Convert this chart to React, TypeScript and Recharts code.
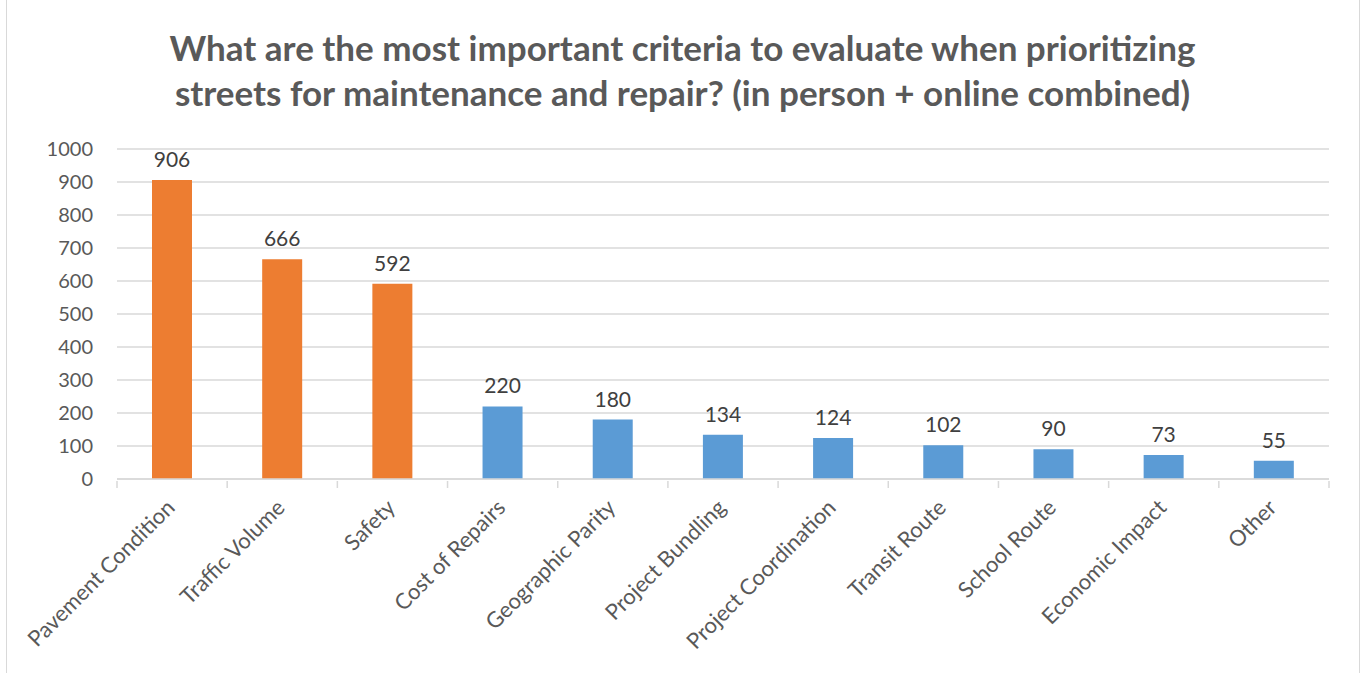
import React from 'react';
import { Bar, BarChart, CartesianGrid, Cell, LabelList, XAxis, YAxis } from 'recharts';

const categories = [
  'Pavement Condition',
  'Traffic Volume',
  'Safety',
  'Cost of Repairs',
  'Geographic Parity',
  'Project Bundling',
  'Project Coordination',
  'Transit Route',
  'School Route',
  'Economic Impact',
  'Other',
];
const votes = [906, 666, 592, 220, 180, 134, 124, 102, 90, 73, 55];
const highlighted = [true, true, true, false, false, false, false, false, false, false, false];
const yTicks = [0, 100, 200, 300, 400, 500, 600, 700, 800, 900, 1000];

const ORANGE = '#ED7D31';
const BLUE = '#5B9BD5';
const FONT = 'Lato, "Open Sans", sans-serif';

const PLOT_LEFT = 117;
const PLOT_RIGHT = 1329;
const BAND = (PLOT_RIGHT - PLOT_LEFT) / categories.length;

const data = categories.map((name, i) => ({ name, votes: votes[i], top: highlighted[i] }));

// Excel-style axis: tick marks sit between categories, labels rotated 45deg
const XTick = (props: any) => {
  const { x, y, payload, index } = props;
  const last = index === categories.length - 1;
  return (
    <g>
      <line x1={x - BAND / 2} x2={x - BAND / 2} y1={y} y2={y + 7} stroke='#d9d9d9' strokeWidth={1.5} />
      {last && <line x1={x + BAND / 2} x2={x + BAND / 2} y1={y} y2={y + 7} stroke='#d9d9d9' strokeWidth={1.5} />}
      <text
        transform={`translate(${x + 4},${y + 28}) rotate(-45)`}
        textAnchor='end'
        fill='#595959'
        fontSize={22}
        fontFamily={FONT}
      >
        {payload.value}
      </text>
    </g>
  );
};

export default function App() {
  return (
    <div style={{ position: 'absolute', left: 0, top: 0, width: 1365, height: 673, background: '#fff', overflow: 'hidden' }}>
      <div style={{ position: 'absolute', left: 6, top: -2, width: 1352, height: 680, borderLeft: '1.5px solid #d9d9d9', borderRight: '1.5px solid #d9d9d9' }} />
      <div
        style={{
          position: 'absolute',
          left: 0,
          top: 25,
          width: 1365,
          textAlign: 'center',
          fontFamily: FONT,
          fontWeight: 700,
          fontSize: 35,
          lineHeight: '45px',
          color: '#595959',
        }}
      >
        What are the most important criteria to evaluate when prioritizing
        <br />
        streets for maintenance and repair? (in person + online combined)
      </div>
      <div style={{ position: 'absolute', left: 0, top: 0 }}>
        <BarChart
          width={1365}
          height={673}
          data={data}
          margin={{ top: 149, right: 1365 - PLOT_RIGHT, left: 0, bottom: 0 }}
        >
          <CartesianGrid vertical={false} stroke='#d9d9d9' strokeWidth={1.5} />
          <XAxis
            dataKey='name'
            interval={0}
            axisLine={{ stroke: '#d9d9d9', strokeWidth: 1.5 }}
            tickLine={false}
            tick={<XTick />}
            tickSize={0}
            height={673 - 479}
          />
          <YAxis
            domain={[0, 1000]}
            ticks={yTicks}
            width={PLOT_LEFT}
            axisLine={false}
            tickLine={false}
            tickSize={0}
            tickMargin={24}
            tick={{ fill: '#595959', fontSize: 20, fontFamily: FONT }}
          />
          <Bar dataKey='votes' barSize={40} isAnimationActive={false}>
            {data.map((d, i) => (
              <Cell key={i} fill={d.top ? ORANGE : BLUE} />
            ))}
            <LabelList dataKey='votes' position='top' offset={13} fill='#404040' fontSize={21} fontFamily={FONT} />
          </Bar>
        </BarChart>
      </div>
    </div>
  );
}
